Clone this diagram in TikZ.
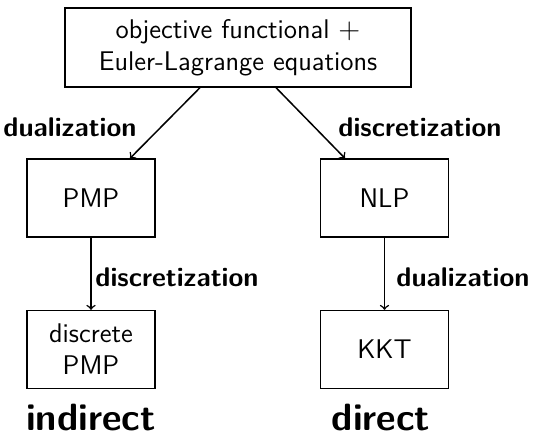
\documentclass[tikz,border=0pt]{standalone}
\usetikzlibrary{calc}
\begin{document}
\begin{tikzpicture}[x=0.5pt,y=-0.5pt,
  box/.style={draw,line width=0.65pt,font=\sffamily\fontsize{13.5}{16}\selectfont,align=center,inner sep=0pt},
  smallbox/.style={box,minimum width=64pt,minimum height=39pt},
  lab/.style={font=\sffamily\bfseries\fontsize{13.5}{16}\selectfont,inner sep=0pt},
  big/.style={font=\sffamily\bfseries\fontsize{19}{22}\selectfont,inner sep=0pt},
  arr/.style={->,line width=0.75pt}]
\useasboundingbox (0,0) rectangle (539,441);
% problem formulation
\node[box,minimum width=173pt,minimum height=39.5pt] (top) at (238,47.5)
  {objective functional $+$\\Euler-Lagrange equations};
% indirect branch
\node[smallbox] (pmp) at (91,198) {PMP};
\node[smallbox] (dpmp) at (91,349.5) {discrete\\PMP};
% direct branch
\node[smallbox] (nlp) at (384.5,198) {NLP};
\node[smallbox] (kkt) at (384.5,349.5) {KKT};
% connectors
\draw[arr] ([xshift=-19pt]top.south) -- ([xshift=19.5pt]pmp.north);
\draw[arr] ([xshift=19pt]top.south) -- ([xshift=-19.75pt]nlp.north);
\draw[arr] (pmp) -- (dpmp);
\draw[arr] (nlp) -- (kkt);
% edge labels
\node[lab] (l1) at (70,127) {dualization};
\node[lab] (l2) at (420,127) {discretization};
\node[lab] (l3) at (177,277) {discretization};
\node[lab] (l4) at (463,277) {dualization};
% column titles
\node[big] (ind) at (91,418) {indirect};
\node[big] (dir) at (381,418) {direct};
\end{tikzpicture}
\end{document}
